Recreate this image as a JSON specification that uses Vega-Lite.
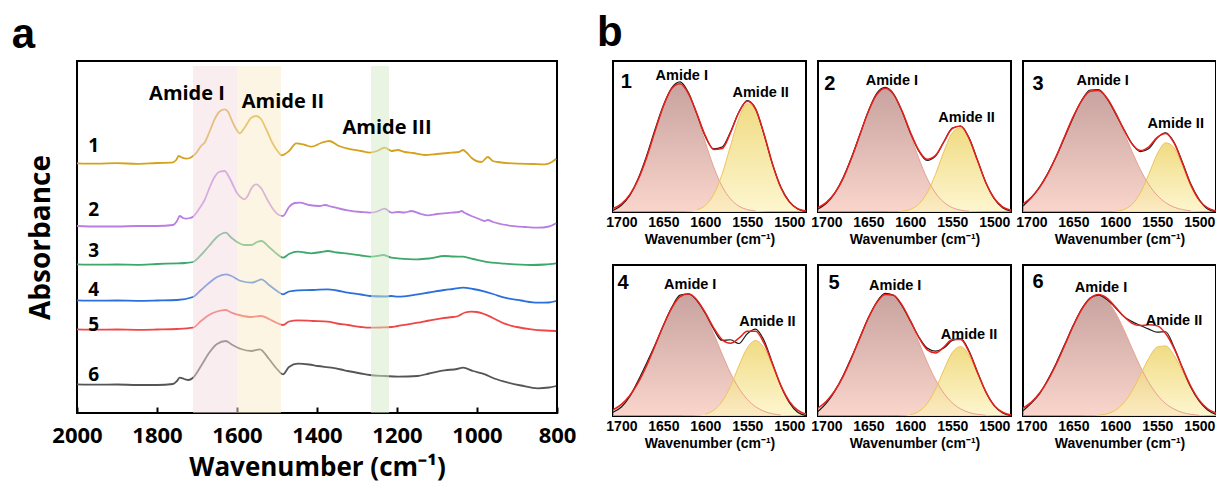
{
 "$schema": "https://vega.github.io/schema/vega-lite/v6.json",
 "background": "white",
 "padding": {"left": 10, "top": 11, "right": 0, "bottom": 0},
 "config": {
  "view": {"stroke": "black", "strokeWidth": 2},
  "axis": {"labelColor": "black", "titleColor": "black", "grid": false}
 },
 "datasets": {
  "spectra": [
   {"s":"1","wn":2000,"v":2.497},{"s":"1","wn":1950,"v":2.494},{"s":"1","wn":1900,"v":2.498},{"s":"1","wn":1850,"v":2.492},{"s":"1","wn":1800,"v":2.5},{"s":"1","wn":1764,"v":2.503},{"s":"1","wn":1752,"v":2.53},{"s":"1","wn":1746,"v":2.57},{"s":"1","wn":1738,"v":2.555},{"s":"1","wn":1727,"v":2.543},{"s":"1","wn":1718,"v":2.55},{"s":"1","wn":1710,"v":2.57},{"s":"1","wn":1700,"v":2.61},{"s":"1","wn":1690,"v":2.67},{"s":"1","wn":1681,"v":2.703},{"s":"1","wn":1670,"v":2.8},{"s":"1","wn":1656,"v":2.937},{"s":"1","wn":1645,"v":3.01},{"s":"1","wn":1631,"v":3.037},{"s":"1","wn":1622,"v":3.01},{"s":"1","wn":1614,"v":2.937},{"s":"1","wn":1605,"v":2.86},{"s":"1","wn":1593,"v":2.797},{"s":"1","wn":1580,"v":2.86},{"s":"1","wn":1565,"v":2.95},{"s":"1","wn":1552,"v":2.97},{"s":"1","wn":1540,"v":2.94},{"s":"1","wn":1525,"v":2.82},{"s":"1","wn":1510,"v":2.69},{"s":"1","wn":1497,"v":2.61},{"s":"1","wn":1489,"v":2.577},{"s":"1","wn":1470,"v":2.62},{"s":"1","wn":1452,"v":2.697},{"s":"1","wn":1430,"v":2.68},{"s":"1","wn":1414,"v":2.663},{"s":"1","wn":1390,"v":2.7},{"s":"1","wn":1369,"v":2.72},{"s":"1","wn":1345,"v":2.67},{"s":"1","wn":1323,"v":2.643},{"s":"1","wn":1290,"v":2.62},{"s":"1","wn":1268,"v":2.603},{"s":"1","wn":1250,"v":2.62},{"s":"1","wn":1231,"v":2.653},{"s":"1","wn":1214,"v":2.62},{"s":"1","wn":1198,"v":2.63},{"s":"1","wn":1181,"v":2.61},{"s":"1","wn":1160,"v":2.6},{"s":"1","wn":1131,"v":2.58},{"s":"1","wn":1100,"v":2.59},{"s":"1","wn":1064,"v":2.603},{"s":"1","wn":1045,"v":2.61},{"s":"1","wn":1035,"v":2.63},{"s":"1","wn":1025,"v":2.6},{"s":"1","wn":1014,"v":2.553},{"s":"1","wn":989,"v":2.51},{"s":"1","wn":973,"v":2.56},{"s":"1","wn":960,"v":2.52},{"s":"1","wn":948,"v":2.51},{"s":"1","wn":898,"v":2.493},{"s":"1","wn":860,"v":2.49},{"s":"1","wn":831,"v":2.487},{"s":"1","wn":815,"v":2.505},{"s":"1","wn":802,"v":2.543},
   {"s":"2","wn":2000,"v":1.87},{"s":"2","wn":1950,"v":1.865},{"s":"2","wn":1900,"v":1.865},{"s":"2","wn":1850,"v":1.87},{"s":"2","wn":1800,"v":1.87},{"s":"2","wn":1760,"v":1.88},{"s":"2","wn":1750,"v":1.92},{"s":"2","wn":1743,"v":1.97},{"s":"2","wn":1735,"v":1.95},{"s":"2","wn":1727,"v":1.943},{"s":"2","wn":1718,"v":1.95},{"s":"2","wn":1710,"v":1.963},{"s":"2","wn":1700,"v":2.01},{"s":"2","wn":1690,"v":2.07},{"s":"2","wn":1681,"v":2.13},{"s":"2","wn":1670,"v":2.24},{"s":"2","wn":1656,"v":2.36},{"s":"2","wn":1645,"v":2.41},{"s":"2","wn":1631,"v":2.42},{"s":"2","wn":1620,"v":2.36},{"s":"2","wn":1610,"v":2.28},{"s":"2","wn":1600,"v":2.2},{"s":"2","wn":1590,"v":2.155},{"s":"2","wn":1581,"v":2.137},{"s":"2","wn":1572,"v":2.18},{"s":"2","wn":1565,"v":2.24},{"s":"2","wn":1552,"v":2.287},{"s":"2","wn":1540,"v":2.25},{"s":"2","wn":1525,"v":2.14},{"s":"2","wn":1510,"v":2.04},{"s":"2","wn":1495,"v":1.98},{"s":"2","wn":1485,"v":1.97},{"s":"2","wn":1470,"v":2.06},{"s":"2","wn":1455,"v":2.1},{"s":"2","wn":1443,"v":2.103},{"s":"2","wn":1420,"v":2.08},{"s":"2","wn":1393,"v":2.07},{"s":"2","wn":1380,"v":2.08},{"s":"2","wn":1364,"v":2.063},{"s":"2","wn":1340,"v":2.04},{"s":"2","wn":1323,"v":2.027},{"s":"2","wn":1290,"v":2.01},{"s":"2","wn":1268,"v":2.003},{"s":"2","wn":1250,"v":2.015},{"s":"2","wn":1231,"v":2.043},{"s":"2","wn":1214,"v":2.003},{"s":"2","wn":1198,"v":2.01},{"s":"2","wn":1181,"v":2.005},{"s":"2","wn":1164,"v":2.02},{"s":"2","wn":1140,"v":1.99},{"s":"2","wn":1123,"v":1.977},{"s":"2","wn":1100,"v":1.99},{"s":"2","wn":1064,"v":2.003},{"s":"2","wn":1045,"v":2.01},{"s":"2","wn":1039,"v":2.02},{"s":"2","wn":1030,"v":2.0},{"s":"2","wn":1014,"v":1.97},{"s":"2","wn":995,"v":1.94},{"s":"2","wn":981,"v":1.92},{"s":"2","wn":973,"v":1.93},{"s":"2","wn":960,"v":1.91},{"s":"2","wn":923,"v":1.877},{"s":"2","wn":880,"v":1.86},{"s":"2","wn":848,"v":1.853},{"s":"2","wn":820,"v":1.865},{"s":"2","wn":802,"v":1.897},
   {"s":"3","wn":2000,"v":1.487},{"s":"3","wn":1950,"v":1.484},{"s":"3","wn":1900,"v":1.485},{"s":"3","wn":1850,"v":1.482},{"s":"3","wn":1800,"v":1.49},{"s":"3","wn":1748,"v":1.497},{"s":"3","wn":1730,"v":1.5},{"s":"3","wn":1710,"v":1.51},{"s":"3","wn":1690,"v":1.58},{"s":"3","wn":1670,"v":1.67},{"s":"3","wn":1650,"v":1.76},{"s":"3","wn":1628,"v":1.803},{"s":"3","wn":1614,"v":1.753},{"s":"3","wn":1600,"v":1.71},{"s":"3","wn":1580,"v":1.68},{"s":"3","wn":1564,"v":1.68},{"s":"3","wn":1550,"v":1.71},{"s":"3","wn":1539,"v":1.72},{"s":"3","wn":1520,"v":1.66},{"s":"3","wn":1500,"v":1.59},{"s":"3","wn":1485,"v":1.553},{"s":"3","wn":1470,"v":1.59},{"s":"3","wn":1448,"v":1.613},{"s":"3","wn":1430,"v":1.605},{"s":"3","wn":1414,"v":1.597},{"s":"3","wn":1390,"v":1.61},{"s":"3","wn":1373,"v":1.62},{"s":"3","wn":1350,"v":1.605},{"s":"3","wn":1323,"v":1.593},{"s":"3","wn":1290,"v":1.575},{"s":"3","wn":1268,"v":1.563},{"s":"3","wn":1250,"v":1.57},{"s":"3","wn":1235,"v":1.58},{"s":"3","wn":1214,"v":1.553},{"s":"3","wn":1198,"v":1.547},{"s":"3","wn":1148,"v":1.537},{"s":"3","wn":1120,"v":1.545},{"s":"3","wn":1081,"v":1.57},{"s":"3","wn":1060,"v":1.565},{"s":"3","wn":1035,"v":1.563},{"s":"3","wn":1010,"v":1.54},{"s":"3","wn":980,"v":1.513},{"s":"3","wn":931,"v":1.493},{"s":"3","wn":864,"v":1.48},{"s":"3","wn":830,"v":1.485},{"s":"3","wn":802,"v":1.497},
   {"s":"4","wn":2000,"v":1.127},{"s":"4","wn":1950,"v":1.124},{"s":"4","wn":1900,"v":1.125},{"s":"4","wn":1850,"v":1.122},{"s":"4","wn":1800,"v":1.125},{"s":"4","wn":1750,"v":1.13},{"s":"4","wn":1710,"v":1.16},{"s":"4","wn":1690,"v":1.23},{"s":"4","wn":1670,"v":1.3},{"s":"4","wn":1650,"v":1.36},{"s":"4","wn":1628,"v":1.387},{"s":"4","wn":1614,"v":1.37},{"s":"4","wn":1590,"v":1.32},{"s":"4","wn":1564,"v":1.303},{"s":"4","wn":1550,"v":1.32},{"s":"4","wn":1539,"v":1.337},{"s":"4","wn":1520,"v":1.28},{"s":"4","wn":1500,"v":1.22},{"s":"4","wn":1485,"v":1.187},{"s":"4","wn":1470,"v":1.215},{"s":"4","wn":1448,"v":1.227},{"s":"4","wn":1410,"v":1.23},{"s":"4","wn":1373,"v":1.237},{"s":"4","wn":1350,"v":1.225},{"s":"4","wn":1323,"v":1.203},{"s":"4","wn":1290,"v":1.185},{"s":"4","wn":1268,"v":1.17},{"s":"4","wn":1230,"v":1.165},{"s":"4","wn":1214,"v":1.17},{"s":"4","wn":1198,"v":1.163},{"s":"4","wn":1148,"v":1.187},{"s":"4","wn":1120,"v":1.205},{"s":"4","wn":1081,"v":1.23},{"s":"4","wn":1060,"v":1.24},{"s":"4","wn":1035,"v":1.253},{"s":"4","wn":1010,"v":1.24},{"s":"4","wn":980,"v":1.213},{"s":"4","wn":960,"v":1.19},{"s":"4","wn":931,"v":1.153},{"s":"4","wn":890,"v":1.125},{"s":"4","wn":848,"v":1.103},{"s":"4","wn":820,"v":1.105},{"s":"4","wn":802,"v":1.12},
   {"s":"5","wn":2000,"v":0.837},{"s":"5","wn":1950,"v":0.834},{"s":"5","wn":1900,"v":0.835},{"s":"5","wn":1850,"v":0.832},{"s":"5","wn":1800,"v":0.835},{"s":"5","wn":1750,"v":0.84},{"s":"5","wn":1710,"v":0.853},{"s":"5","wn":1690,"v":0.92},{"s":"5","wn":1670,"v":0.98},{"s":"5","wn":1650,"v":1.015},{"s":"5","wn":1628,"v":1.03},{"s":"5","wn":1614,"v":1.003},{"s":"5","wn":1590,"v":0.975},{"s":"5","wn":1564,"v":0.96},{"s":"5","wn":1550,"v":0.967},{"s":"5","wn":1539,"v":0.97},{"s":"5","wn":1520,"v":0.94},{"s":"5","wn":1500,"v":0.9},{"s":"5","wn":1485,"v":0.88},{"s":"5","wn":1470,"v":0.915},{"s":"5","wn":1448,"v":0.927},{"s":"5","wn":1410,"v":0.92},{"s":"5","wn":1373,"v":0.913},{"s":"5","wn":1350,"v":0.895},{"s":"5","wn":1323,"v":0.88},{"s":"5","wn":1290,"v":0.86},{"s":"5","wn":1268,"v":0.853},{"s":"5","wn":1240,"v":0.855},{"s":"5","wn":1214,"v":0.86},{"s":"5","wn":1198,"v":0.87},{"s":"5","wn":1148,"v":0.903},{"s":"5","wn":1120,"v":0.925},{"s":"5","wn":1089,"v":0.947},{"s":"5","wn":1060,"v":0.96},{"s":"5","wn":1047,"v":0.97},{"s":"5","wn":1030,"v":1.005},{"s":"5","wn":1014,"v":1.013},{"s":"5","wn":1000,"v":1.01},{"s":"5","wn":980,"v":0.987},{"s":"5","wn":960,"v":0.95},{"s":"5","wn":931,"v":0.893},{"s":"5","wn":900,"v":0.86},{"s":"5","wn":864,"v":0.837},{"s":"5","wn":830,"v":0.825},{"s":"5","wn":802,"v":0.82},
   {"s":"6","wn":2000,"v":0.287},{"s":"6","wn":1950,"v":0.284},{"s":"6","wn":1900,"v":0.285},{"s":"6","wn":1850,"v":0.28},{"s":"6","wn":1800,"v":0.28},{"s":"6","wn":1760,"v":0.29},{"s":"6","wn":1750,"v":0.32},{"s":"6","wn":1743,"v":0.353},{"s":"6","wn":1732,"v":0.34},{"s":"6","wn":1722,"v":0.33},{"s":"6","wn":1710,"v":0.353},{"s":"6","wn":1690,"v":0.47},{"s":"6","wn":1670,"v":0.6},{"s":"6","wn":1650,"v":0.69},{"s":"6","wn":1628,"v":0.72},{"s":"6","wn":1614,"v":0.687},{"s":"6","wn":1590,"v":0.64},{"s":"6","wn":1564,"v":0.62},{"s":"6","wn":1543,"v":0.637},{"s":"6","wn":1520,"v":0.54},{"s":"6","wn":1500,"v":0.44},{"s":"6","wn":1485,"v":0.387},{"s":"6","wn":1470,"v":0.46},{"s":"6","wn":1448,"v":0.493},{"s":"6","wn":1420,"v":0.485},{"s":"6","wn":1398,"v":0.47},{"s":"6","wn":1364,"v":0.453},{"s":"6","wn":1340,"v":0.435},{"s":"6","wn":1323,"v":0.42},{"s":"6","wn":1290,"v":0.395},{"s":"6","wn":1268,"v":0.38},{"s":"6","wn":1230,"v":0.37},{"s":"6","wn":1198,"v":0.363},{"s":"6","wn":1148,"v":0.37},{"s":"6","wn":1120,"v":0.395},{"s":"6","wn":1081,"v":0.427},{"s":"6","wn":1050,"v":0.44},{"s":"6","wn":1035,"v":0.453},{"s":"6","wn":1010,"v":0.42},{"s":"6","wn":980,"v":0.387},{"s":"6","wn":960,"v":0.35},{"s":"6","wn":931,"v":0.313},{"s":"6","wn":890,"v":0.275},{"s":"6","wn":848,"v":0.247},{"s":"6","wn":820,"v":0.255},{"s":"6","wn":802,"v":0.27}
  ],
  "bands": [
   {"b":"I","x1":1600,"x2":1710},
   {"b":"II","x1":1490,"x2":1600},
   {"b":"III","x1":1220,"x2":1265}
  ],
  "alab": [
   {"t":"1","wn":1958,"v":2.67,"k":"n"},{"t":"2","wn":1958,"v":2.035,"k":"n"},{"t":"3","wn":1958,"v":1.62,"k":"n"},{"t":"4","wn":1958,"v":1.235,"k":"n"},{"t":"5","wn":1958,"v":0.885,"k":"n"},{"t":"6","wn":1958,"v":0.385,"k":"n"},
   {"t":"Amide I","wn":1725,"v":3.195,"k":"a"},{"t":"Amide II","wn":1485,"v":3.11,"k":"a"},{"t":"Amide III","wn":1225,"v":2.855,"k":"a"},
   {"t":"a","wn":2134,"v":3.655,"k":"p"},{"t":"b","wn":668,"v":3.67,"k":"p"}
  ],
  "fits": [
   {"p":1,"wn":1710,"a1":0.023,"a2":0,"fit":0.023,"raw":0.01},{"p":1,"wn":1700,"a1":0.054,"a2":0,"fit":0.054,"raw":0.045},{"p":1,"wn":1690,"a1":0.115,"a2":0,"fit":0.115,"raw":0.11},{"p":1,"wn":1680,"a1":0.216,"a2":0,"fit":0.216,"raw":0.222},{"p":1,"wn":1670,"a1":0.36,"a2":0,"fit":0.36,"raw":0.372},{"p":1,"wn":1660,"a1":0.534,"a2":0,"fit":0.534,"raw":0.545},{"p":1,"wn":1650,"a1":0.701,"a2":0,"fit":0.701,"raw":0.705},{"p":1,"wn":1640,"a1":0.818,"a2":0,"fit":0.818,"raw":0.822},{"p":1,"wn":1630,"a1":0.848,"a2":0.001,"fit":0.849,"raw":0.862},{"p":1,"wn":1620,"a1":0.78,"a2":0.003,"fit":0.783,"raw":0.79},{"p":1,"wn":1610,"a1":0.637,"a2":0.014,"fit":0.651,"raw":0.648},{"p":1,"wn":1600,"a1":0.462,"a2":0.044,"fit":0.506,"raw":0.5},{"p":1,"wn":1590,"a1":0.298,"a2":0.116,"fit":0.414,"raw":0.418},{"p":1,"wn":1580,"a1":0.17,"a2":0.25,"fit":0.42,"raw":0.43},{"p":1,"wn":1570,"a1":0.087,"a2":0.437,"fit":0.524,"raw":0.53},{"p":1,"wn":1560,"a1":0.039,"a2":0.62,"fit":0.659,"raw":0.662},{"p":1,"wn":1550,"a1":0.016,"a2":0.717,"fit":0.733,"raw":0.738},{"p":1,"wn":1540,"a1":0.006,"a2":0.674,"fit":0.68,"raw":0.683},{"p":1,"wn":1530,"a1":0.002,"a2":0.515,"fit":0.517,"raw":0.512},{"p":1,"wn":1520,"a1":0,"a2":0.32,"fit":0.32,"raw":0.318},{"p":1,"wn":1510,"a1":0,"a2":0.162,"fit":0.162,"raw":0.165},{"p":1,"wn":1500,"a1":0,"a2":0.067,"fit":0.067,"raw":0.07},{"p":1,"wn":1490,"a1":0,"a2":0.022,"fit":0.022,"raw":0.02},{"p":1,"wn":1480,"a1":0,"a2":0.006,"fit":0.006,"raw":0.003},
   {"p":2,"wn":1710,"a1":0.029,"a2":0,"fit":0.029,"raw":0.02},{"p":2,"wn":1700,"a1":0.064,"a2":0,"fit":0.064,"raw":0.058},{"p":2,"wn":1690,"a1":0.126,"a2":0,"fit":0.126,"raw":0.125},{"p":2,"wn":1680,"a1":0.223,"a2":0,"fit":0.223,"raw":0.228},{"p":2,"wn":1670,"a1":0.357,"a2":0,"fit":0.357,"raw":0.362},{"p":2,"wn":1660,"a1":0.513,"a2":0,"fit":0.513,"raw":0.515},{"p":2,"wn":1650,"a1":0.666,"a2":0,"fit":0.666,"raw":0.668},{"p":2,"wn":1640,"a1":0.778,"a2":0,"fit":0.778,"raw":0.785},{"p":2,"wn":1630,"a1":0.82,"a2":0,"fit":0.82,"raw":0.825},{"p":2,"wn":1620,"a1":0.778,"a2":0.001,"fit":0.779,"raw":0.782},{"p":2,"wn":1610,"a1":0.666,"a2":0.005,"fit":0.671,"raw":0.668},{"p":2,"wn":1600,"a1":0.513,"a2":0.017,"fit":0.53,"raw":0.525},{"p":2,"wn":1590,"a1":0.357,"a2":0.052,"fit":0.409,"raw":0.405},{"p":2,"wn":1580,"a1":0.223,"a2":0.126,"fit":0.349,"raw":0.342},{"p":2,"wn":1570,"a1":0.126,"a2":0.249,"fit":0.375,"raw":0.37},{"p":2,"wn":1560,"a1":0.064,"a2":0.4,"fit":0.464,"raw":0.465},{"p":2,"wn":1550,"a1":0.029,"a2":0.524,"fit":0.553,"raw":0.556},{"p":2,"wn":1540,"a1":0.012,"a2":0.558,"fit":0.57,"raw":0.568},{"p":2,"wn":1530,"a1":0.005,"a2":0.483,"fit":0.488,"raw":0.492},{"p":2,"wn":1520,"a1":0.002,"a2":0.34,"fit":0.342,"raw":0.345},{"p":2,"wn":1510,"a1":0,"a2":0.194,"fit":0.194,"raw":0.195},{"p":2,"wn":1500,"a1":0,"a2":0.091,"fit":0.091,"raw":0.088},{"p":2,"wn":1490,"a1":0,"a2":0.034,"fit":0.034,"raw":0.028},{"p":2,"wn":1480,"a1":0,"a2":0.011,"fit":0.011,"raw":0.005},
   {"p":3,"wn":1710,"a1":0.054,"a2":0,"fit":0.054,"raw":0.04},{"p":3,"wn":1700,"a1":0.098,"a2":0,"fit":0.098,"raw":0.095},{"p":3,"wn":1690,"a1":0.165,"a2":0,"fit":0.165,"raw":0.168},{"p":3,"wn":1680,"a1":0.258,"a2":0,"fit":0.258,"raw":0.262},{"p":3,"wn":1670,"a1":0.374,"a2":0,"fit":0.374,"raw":0.372},{"p":3,"wn":1660,"a1":0.505,"a2":0,"fit":0.505,"raw":0.5},{"p":3,"wn":1650,"a1":0.633,"a2":0,"fit":0.633,"raw":0.628},{"p":3,"wn":1640,"a1":0.738,"a2":0,"fit":0.738,"raw":0.74},{"p":3,"wn":1630,"a1":0.799,"a2":0,"fit":0.799,"raw":0.808},{"p":3,"wn":1620,"a1":0.805,"a2":0,"fit":0.805,"raw":0.81},{"p":3,"wn":1610,"a1":0.754,"a2":0.001,"fit":0.755,"raw":0.752},{"p":3,"wn":1600,"a1":0.656,"a2":0.004,"fit":0.66,"raw":0.655},{"p":3,"wn":1590,"a1":0.531,"a2":0.016,"fit":0.547,"raw":0.55},{"p":3,"wn":1580,"a1":0.399,"a2":0.051,"fit":0.45,"raw":0.452},{"p":3,"wn":1570,"a1":0.279,"a2":0.128,"fit":0.407,"raw":0.4},{"p":3,"wn":1560,"a1":0.181,"a2":0.251,"fit":0.432,"raw":0.42},{"p":3,"wn":1550,"a1":0.11,"a2":0.384,"fit":0.494,"raw":0.492},{"p":3,"wn":1540,"a1":0.062,"a2":0.458,"fit":0.52,"raw":0.525},{"p":3,"wn":1530,"a1":0.032,"a2":0.425,"fit":0.457,"raw":0.462},{"p":3,"wn":1520,"a1":0.016,"a2":0.307,"fit":0.323,"raw":0.33},{"p":3,"wn":1510,"a1":0.007,"a2":0.173,"fit":0.18,"raw":0.185},{"p":3,"wn":1500,"a1":0.003,"a2":0.076,"fit":0.079,"raw":0.082},{"p":3,"wn":1490,"a1":0.001,"a2":0.026,"fit":0.027,"raw":0.02},{"p":3,"wn":1480,"a1":0,"a2":0.007,"fit":0.007,"raw":0.002},
   {"p":4,"wn":1710,"a1":0.041,"a2":0,"fit":0.041,"raw":0.025},{"p":4,"wn":1700,"a1":0.077,"a2":0,"fit":0.077,"raw":0.06},{"p":4,"wn":1690,"a1":0.136,"a2":0,"fit":0.136,"raw":0.13},{"p":4,"wn":1680,"a1":0.221,"a2":0,"fit":0.221,"raw":0.235},{"p":4,"wn":1670,"a1":0.333,"a2":0,"fit":0.333,"raw":0.35},{"p":4,"wn":1660,"a1":0.464,"a2":0,"fit":0.464,"raw":0.47},{"p":4,"wn":1650,"a1":0.599,"a2":0,"fit":0.599,"raw":0.6},{"p":4,"wn":1640,"a1":0.715,"a2":0,"fit":0.715,"raw":0.72},{"p":4,"wn":1630,"a1":0.79,"a2":0,"fit":0.79,"raw":0.8},{"p":4,"wn":1620,"a1":0.809,"a2":0.001,"fit":0.81,"raw":0.808},{"p":4,"wn":1610,"a1":0.766,"a2":0.003,"fit":0.769,"raw":0.765},{"p":4,"wn":1600,"a1":0.672,"a2":0.012,"fit":0.684,"raw":0.68},{"p":4,"wn":1590,"a1":0.546,"a2":0.038,"fit":0.584,"raw":0.575},{"p":4,"wn":1580,"a1":0.41,"a2":0.096,"fit":0.506,"raw":0.5},{"p":4,"wn":1570,"a1":0.285,"a2":0.197,"fit":0.482,"raw":0.505},{"p":4,"wn":1560,"a1":0.184,"a2":0.331,"fit":0.515,"raw":0.48},{"p":4,"wn":1550,"a1":0.11,"a2":0.451,"fit":0.561,"raw":0.545},{"p":4,"wn":1540,"a1":0.061,"a2":0.5,"fit":0.561,"raw":0.575},{"p":4,"wn":1530,"a1":0.031,"a2":0.451,"fit":0.482,"raw":0.5},{"p":4,"wn":1520,"a1":0.015,"a2":0.331,"fit":0.346,"raw":0.35},{"p":4,"wn":1510,"a1":0.006,"a2":0.197,"fit":0.203,"raw":0.2},{"p":4,"wn":1500,"a1":0.003,"a2":0.096,"fit":0.099,"raw":0.09},{"p":4,"wn":1490,"a1":0.001,"a2":0.038,"fit":0.039,"raw":0.025},{"p":4,"wn":1480,"a1":0,"a2":0.012,"fit":0.012,"raw":0.003},
   {"p":5,"wn":1710,"a1":0.053,"a2":0,"fit":0.053,"raw":0.03},{"p":5,"wn":1700,"a1":0.098,"a2":0,"fit":0.098,"raw":0.085},{"p":5,"wn":1690,"a1":0.167,"a2":0,"fit":0.167,"raw":0.165},{"p":5,"wn":1680,"a1":0.263,"a2":0,"fit":0.263,"raw":0.268},{"p":5,"wn":1670,"a1":0.384,"a2":0,"fit":0.384,"raw":0.39},{"p":5,"wn":1660,"a1":0.519,"a2":0,"fit":0.519,"raw":0.52},{"p":5,"wn":1650,"a1":0.649,"a2":0,"fit":0.649,"raw":0.65},{"p":5,"wn":1640,"a1":0.751,"a2":0,"fit":0.751,"raw":0.755},{"p":5,"wn":1630,"a1":0.805,"a2":0,"fit":0.805,"raw":0.812},{"p":5,"wn":1620,"a1":0.799,"a2":0,"fit":0.799,"raw":0.8},{"p":5,"wn":1610,"a1":0.734,"a2":0.002,"fit":0.736,"raw":0.73},{"p":5,"wn":1600,"a1":0.624,"a2":0.009,"fit":0.633,"raw":0.63},{"p":5,"wn":1590,"a1":0.491,"a2":0.03,"fit":0.521,"raw":0.525},{"p":5,"wn":1580,"a1":0.358,"a2":0.082,"fit":0.44,"raw":0.45},{"p":5,"wn":1570,"a1":0.241,"a2":0.177,"fit":0.418,"raw":0.43},{"p":5,"wn":1560,"a1":0.151,"a2":0.306,"fit":0.457,"raw":0.45},{"p":5,"wn":1550,"a1":0.087,"a2":0.42,"fit":0.507,"raw":0.5},{"p":5,"wn":1540,"a1":0.047,"a2":0.46,"fit":0.507,"raw":0.512},{"p":5,"wn":1530,"a1":0.023,"a2":0.401,"fit":0.424,"raw":0.43},{"p":5,"wn":1520,"a1":0.011,"a2":0.279,"fit":0.29,"raw":0.292},{"p":5,"wn":1510,"a1":0.005,"a2":0.155,"fit":0.16,"raw":0.16},{"p":5,"wn":1500,"a1":0.002,"a2":0.068,"fit":0.07,"raw":0.068},{"p":5,"wn":1490,"a1":0.001,"a2":0.024,"fit":0.025,"raw":0.02},{"p":5,"wn":1480,"a1":0,"a2":0.007,"fit":0.007,"raw":0.002},
   {"p":6,"wn":1710,"a1":0.052,"a2":0,"fit":0.052,"raw":0.035},{"p":6,"wn":1700,"a1":0.092,"a2":0,"fit":0.092,"raw":0.085},{"p":6,"wn":1690,"a1":0.154,"a2":0,"fit":0.154,"raw":0.15},{"p":6,"wn":1680,"a1":0.24,"a2":0,"fit":0.24,"raw":0.245},{"p":6,"wn":1670,"a1":0.348,"a2":0,"fit":0.348,"raw":0.355},{"p":6,"wn":1660,"a1":0.472,"a2":0,"fit":0.472,"raw":0.478},{"p":6,"wn":1650,"a1":0.598,"a2":0,"fit":0.598,"raw":0.602},{"p":6,"wn":1640,"a1":0.706,"a2":0,"fit":0.706,"raw":0.71},{"p":6,"wn":1630,"a1":0.778,"a2":0.001,"fit":0.779,"raw":0.782},{"p":6,"wn":1620,"a1":0.8,"a2":0.005,"fit":0.805,"raw":0.8},{"p":6,"wn":1610,"a1":0.767,"a2":0.014,"fit":0.781,"raw":0.772},{"p":6,"wn":1600,"a1":0.686,"a2":0.038,"fit":0.724,"raw":0.718},{"p":6,"wn":1590,"a1":0.574,"a2":0.086,"fit":0.66,"raw":0.66},{"p":6,"wn":1580,"a1":0.447,"a2":0.167,"fit":0.614,"raw":0.625},{"p":6,"wn":1570,"a1":0.325,"a2":0.274,"fit":0.599,"raw":0.6},{"p":6,"wn":1560,"a1":0.221,"a2":0.383,"fit":0.604,"raw":0.575},{"p":6,"wn":1550,"a1":0.14,"a2":0.457,"fit":0.597,"raw":0.555},{"p":6,"wn":1540,"a1":0.082,"a2":0.464,"fit":0.546,"raw":0.558},{"p":6,"wn":1530,"a1":0.046,"a2":0.402,"fit":0.448,"raw":0.455},{"p":6,"wn":1520,"a1":0.023,"a2":0.296,"fit":0.319,"raw":0.318},{"p":6,"wn":1510,"a1":0.011,"a2":0.186,"fit":0.197,"raw":0.19},{"p":6,"wn":1500,"a1":0.005,"a2":0.1,"fit":0.105,"raw":0.098},{"p":6,"wn":1490,"a1":0.002,"a2":0.046,"fit":0.048,"raw":0.04},{"p":6,"wn":1480,"a1":0.001,"a2":0.018,"fit":0.019,"raw":0.01},
   {"p":1,"wn":1694,"y":0.86,"t":"1","k":"n"},{"p":1,"wn":1628,"y":0.9,"t":"Amide I","k":"a"},{"p":1,"wn":1534,"y":0.79,"t":"Amide II","k":"a"},
   {"p":2,"wn":1696,"y":0.85,"t":"2","k":"n"},{"p":2,"wn":1622,"y":0.87,"t":"Amide I","k":"a"},{"p":2,"wn":1533,"y":0.62,"t":"Amide II","k":"a"},
   {"p":3,"wn":1692,"y":0.85,"t":"3","k":"n"},{"p":3,"wn":1615,"y":0.87,"t":"Amide I","k":"a"},{"p":3,"wn":1528,"y":0.585,"t":"Amide II","k":"a"},
   {"p":4,"wn":1698,"y":0.88,"t":"4","k":"n"},{"p":4,"wn":1618,"y":0.87,"t":"Amide I","k":"a"},{"p":4,"wn":1526,"y":0.62,"t":"Amide II","k":"a"},
   {"p":5,"wn":1691,"y":0.88,"t":"5","k":"n"},{"p":5,"wn":1618,"y":0.86,"t":"Amide I","k":"a"},{"p":5,"wn":1530,"y":0.535,"t":"Amide II","k":"a"},
   {"p":6,"wn":1692,"y":0.89,"t":"6","k":"n"},{"p":6,"wn":1617,"y":0.85,"t":"Amide I","k":"a"},{"p":6,"wn":1530,"y":0.63,"t":"Amide II","k":"a"}
  ]
 },
 "spacing": 56,
 "bounds": "flush",
 "hconcat": [
  {
   "width": 480,
   "height": 352,
   "layer": [
    {
     "data": {"name": "spectra"},
     "mark": {"type": "line", "strokeWidth": 1.8, "interpolate": "monotone"},
     "encoding": {
      "x": {"field": "wn", "type": "quantitative", "scale": {"domain": [800, 2000], "reverse": true, "nice": false, "zero": false},
       "axis": {"values": [800, 1000, 1200, 1400, 1600, 1800, 2000], "format": "d", "domain": false, "tickSize": -6, "tickWidth": 2, "tickColor": "black", "labelFont": "Open Sans", "labelFontSize": 22, "labelFontWeight": "bold", "labelPadding": 18, "labelFlush": false, "labelOverlap": false, "title": "Wavenumber (cm⁻¹)", "titleFont": "Open Sans", "titleFontSize": 26, "titleFontWeight": "bold", "titlePadding": 8}},
      "y": {"field": "v", "type": "quantitative", "scale": {"domain": [0, 3.52], "nice": false, "zero": false},
       "axis": {"labels": false, "ticks": false, "domain": false, "title": "Absorbance", "titleFont": "Open Sans", "titleFontSize": 28, "titleFontWeight": "bold", "titlePadding": 22}},
      "stroke": {"field": "s", "type": "nominal", "scale": {"domain": ["1", "2", "3", "4", "5", "6"], "range": ["#D4A21C", "#B87EE0", "#3DA86A", "#2B6FDB", "#EE4747", "#555555"]}, "legend": null}
     }
    },
    {
     "data": {"name": "bands"},
     "mark": {"type": "rect", "opacity": 0.5},
     "encoding": {
      "x": {"field": "x1", "type": "quantitative"},
      "x2": {"field": "x2"},
      "y": {"datum": 0},
      "y2": {"datum": 3.47},
      "fill": {"field": "b", "type": "nominal", "scale": {"domain": ["I", "II", "III"], "range": ["#F6DCE1", "#FCEBC8", "#D6E9C8"]}, "legend": null}
     }
    },
    {
     "data": {"name": "alab"},
     "transform": [{"filter": "datum.k == 'n'"}],
     "mark": {"type": "text", "font": "Open Sans", "fontSize": 19, "fontWeight": "bold", "color": "black"},
     "encoding": {"x": {"field": "wn", "type": "quantitative"}, "y": {"field": "v", "type": "quantitative"}, "text": {"field": "t"}}
    },
    {
     "data": {"name": "alab"},
     "transform": [{"filter": "datum.k == 'a'"}],
     "mark": {"type": "text", "font": "Open Sans", "fontSize": 20, "fontWeight": "bold", "color": "black"},
     "encoding": {"x": {"field": "wn", "type": "quantitative"}, "y": {"field": "v", "type": "quantitative"}, "text": {"field": "t"}}
    },
    {
     "data": {"name": "alab"},
     "transform": [{"filter": "datum.k == 'p'"}],
     "mark": {"type": "text", "font": "Liberation Sans", "fontSize": 42, "fontWeight": "bold", "color": "black", "baseline": "alphabetic"},
     "encoding": {"x": {"field": "wn", "type": "quantitative"}, "y": {"field": "v", "type": "quantitative"}, "text": {"field": "t"}}
    }
   ]
  },
  {
   "columns": 3,
   "spacing": {"row": 53, "column": 12},
   "bounds": "flush",
   "concat": [
    {"width": 193, "height": 151, "data": {"name": "fits"}, "transform": [{"filter": "datum.p == 1"}],
     "encoding": {"x": {"field": "wn", "type": "quantitative", "scale": {"domain": [1480, 1710], "reverse": true, "nice": false, "zero": false}, "axis": {"values": [1500, 1550, 1600, 1650, 1700], "format": "d", "domain": false, "ticks": false, "labelFont": "Liberation Sans", "labelFontSize": 14, "labelFontWeight": "bold", "labelPadding": 3, "labelFlush": false, "labelOverlap": false, "title": "Wavenumber (cm⁻¹)", "titleFont": "Liberation Sans", "titleFontSize": 14, "titleFontWeight": "bold", "titlePadding": 3}}},
     "layer": [
      {"transform": [{"filter": "isValid(datum.a1)"}], "mark": {"type": "area", "interpolate": "monotone", "fillOpacity": 0.75, "color": {"gradient": "linear", "x1": 0, "y1": 0, "x2": 0, "y2": 1, "stops": [{"offset": 0, "color": "#B6847F"}, {"offset": 1, "color": "#F7C7BB"}]}}, "encoding": {"y": {"field": "a1", "type": "quantitative", "scale": {"domain": [0, 1], "nice": false}, "axis": null}}},
      {"transform": [{"filter": "isValid(datum.a2)"}], "mark": {"type": "area", "interpolate": "monotone", "fillOpacity": 0.75, "color": {"gradient": "linear", "x1": 0, "y1": 0, "x2": 0, "y2": 1, "stops": [{"offset": 0, "color": "#EBD05B"}, {"offset": 1, "color": "#FDF3C0"}]}}, "encoding": {"y": {"field": "a2", "type": "quantitative", "axis": null}}},
      {"transform": [{"filter": "isValid(datum.a1) && datum.a1 > 0.003"}], "mark": {"type": "line", "interpolate": "monotone", "stroke": "#E6A08F", "strokeWidth": 1}, "encoding": {"y": {"field": "a1", "type": "quantitative", "axis": null}}},
      {"transform": [{"filter": "isValid(datum.a2) && datum.a2 > 0.003"}], "mark": {"type": "line", "interpolate": "monotone", "stroke": "#EEC35A", "strokeWidth": 1}, "encoding": {"y": {"field": "a2", "type": "quantitative", "axis": null}}},
      {"transform": [{"filter": "isValid(datum.raw)"}], "mark": {"type": "line", "interpolate": "monotone", "stroke": "#1a1a1a", "strokeWidth": 1.2}, "encoding": {"y": {"field": "raw", "type": "quantitative", "axis": null}}},
      {"transform": [{"filter": "isValid(datum.fit)"}], "mark": {"type": "line", "interpolate": "monotone", "stroke": "#E8201C", "strokeWidth": 1.5}, "encoding": {"y": {"field": "fit", "type": "quantitative", "axis": null}}},
      {"transform": [{"filter": "datum.k == 'n'"}], "mark": {"type": "text", "font": "Liberation Sans", "fontSize": 20, "fontWeight": "bold", "color": "black"}, "encoding": {"y": {"field": "y", "type": "quantitative", "axis": null}, "text": {"field": "t"}}},
      {"transform": [{"filter": "datum.k == 'a'"}], "mark": {"type": "text", "font": "Liberation Sans", "fontSize": 14.5, "fontWeight": "bold", "color": "black"}, "encoding": {"y": {"field": "y", "type": "quantitative", "axis": null}, "text": {"field": "t"}}}
     ]},
    {"width": 193, "height": 151, "data": {"name": "fits"}, "transform": [{"filter": "datum.p == 2"}],
     "encoding": {"x": {"field": "wn", "type": "quantitative", "scale": {"domain": [1480, 1710], "reverse": true, "nice": false, "zero": false}, "axis": {"values": [1500, 1550, 1600, 1650, 1700], "format": "d", "domain": false, "ticks": false, "labelFont": "Liberation Sans", "labelFontSize": 14, "labelFontWeight": "bold", "labelPadding": 3, "labelFlush": false, "labelOverlap": false, "title": "Wavenumber (cm⁻¹)", "titleFont": "Liberation Sans", "titleFontSize": 14, "titleFontWeight": "bold", "titlePadding": 3}}},
     "layer": [
      {"transform": [{"filter": "isValid(datum.a1)"}], "mark": {"type": "area", "interpolate": "monotone", "fillOpacity": 0.75, "color": {"gradient": "linear", "x1": 0, "y1": 0, "x2": 0, "y2": 1, "stops": [{"offset": 0, "color": "#B6847F"}, {"offset": 1, "color": "#F7C7BB"}]}}, "encoding": {"y": {"field": "a1", "type": "quantitative", "scale": {"domain": [0, 1], "nice": false}, "axis": null}}},
      {"transform": [{"filter": "isValid(datum.a2)"}], "mark": {"type": "area", "interpolate": "monotone", "fillOpacity": 0.75, "color": {"gradient": "linear", "x1": 0, "y1": 0, "x2": 0, "y2": 1, "stops": [{"offset": 0, "color": "#EBD05B"}, {"offset": 1, "color": "#FDF3C0"}]}}, "encoding": {"y": {"field": "a2", "type": "quantitative", "axis": null}}},
      {"transform": [{"filter": "isValid(datum.a1) && datum.a1 > 0.003"}], "mark": {"type": "line", "interpolate": "monotone", "stroke": "#E6A08F", "strokeWidth": 1}, "encoding": {"y": {"field": "a1", "type": "quantitative", "axis": null}}},
      {"transform": [{"filter": "isValid(datum.a2) && datum.a2 > 0.003"}], "mark": {"type": "line", "interpolate": "monotone", "stroke": "#EEC35A", "strokeWidth": 1}, "encoding": {"y": {"field": "a2", "type": "quantitative", "axis": null}}},
      {"transform": [{"filter": "isValid(datum.raw)"}], "mark": {"type": "line", "interpolate": "monotone", "stroke": "#1a1a1a", "strokeWidth": 1.2}, "encoding": {"y": {"field": "raw", "type": "quantitative", "axis": null}}},
      {"transform": [{"filter": "isValid(datum.fit)"}], "mark": {"type": "line", "interpolate": "monotone", "stroke": "#E8201C", "strokeWidth": 1.5}, "encoding": {"y": {"field": "fit", "type": "quantitative", "axis": null}}},
      {"transform": [{"filter": "datum.k == 'n'"}], "mark": {"type": "text", "font": "Liberation Sans", "fontSize": 20, "fontWeight": "bold", "color": "black"}, "encoding": {"y": {"field": "y", "type": "quantitative", "axis": null}, "text": {"field": "t"}}},
      {"transform": [{"filter": "datum.k == 'a'"}], "mark": {"type": "text", "font": "Liberation Sans", "fontSize": 14.5, "fontWeight": "bold", "color": "black"}, "encoding": {"y": {"field": "y", "type": "quantitative", "axis": null}, "text": {"field": "t"}}}
     ]},
    {"width": 193, "height": 151, "data": {"name": "fits"}, "transform": [{"filter": "datum.p == 3"}],
     "encoding": {"x": {"field": "wn", "type": "quantitative", "scale": {"domain": [1480, 1710], "reverse": true, "nice": false, "zero": false}, "axis": {"values": [1500, 1550, 1600, 1650, 1700], "format": "d", "domain": false, "ticks": false, "labelFont": "Liberation Sans", "labelFontSize": 14, "labelFontWeight": "bold", "labelPadding": 3, "labelFlush": false, "labelOverlap": false, "title": "Wavenumber (cm⁻¹)", "titleFont": "Liberation Sans", "titleFontSize": 14, "titleFontWeight": "bold", "titlePadding": 3}}},
     "layer": [
      {"transform": [{"filter": "isValid(datum.a1)"}], "mark": {"type": "area", "interpolate": "monotone", "fillOpacity": 0.75, "color": {"gradient": "linear", "x1": 0, "y1": 0, "x2": 0, "y2": 1, "stops": [{"offset": 0, "color": "#B6847F"}, {"offset": 1, "color": "#F7C7BB"}]}}, "encoding": {"y": {"field": "a1", "type": "quantitative", "scale": {"domain": [0, 1], "nice": false}, "axis": null}}},
      {"transform": [{"filter": "isValid(datum.a2)"}], "mark": {"type": "area", "interpolate": "monotone", "fillOpacity": 0.75, "color": {"gradient": "linear", "x1": 0, "y1": 0, "x2": 0, "y2": 1, "stops": [{"offset": 0, "color": "#EBD05B"}, {"offset": 1, "color": "#FDF3C0"}]}}, "encoding": {"y": {"field": "a2", "type": "quantitative", "axis": null}}},
      {"transform": [{"filter": "isValid(datum.a1) && datum.a1 > 0.003"}], "mark": {"type": "line", "interpolate": "monotone", "stroke": "#E6A08F", "strokeWidth": 1}, "encoding": {"y": {"field": "a1", "type": "quantitative", "axis": null}}},
      {"transform": [{"filter": "isValid(datum.a2) && datum.a2 > 0.003"}], "mark": {"type": "line", "interpolate": "monotone", "stroke": "#EEC35A", "strokeWidth": 1}, "encoding": {"y": {"field": "a2", "type": "quantitative", "axis": null}}},
      {"transform": [{"filter": "isValid(datum.raw)"}], "mark": {"type": "line", "interpolate": "monotone", "stroke": "#1a1a1a", "strokeWidth": 1.2}, "encoding": {"y": {"field": "raw", "type": "quantitative", "axis": null}}},
      {"transform": [{"filter": "isValid(datum.fit)"}], "mark": {"type": "line", "interpolate": "monotone", "stroke": "#E8201C", "strokeWidth": 1.5}, "encoding": {"y": {"field": "fit", "type": "quantitative", "axis": null}}},
      {"transform": [{"filter": "datum.k == 'n'"}], "mark": {"type": "text", "font": "Liberation Sans", "fontSize": 20, "fontWeight": "bold", "color": "black"}, "encoding": {"y": {"field": "y", "type": "quantitative", "axis": null}, "text": {"field": "t"}}},
      {"transform": [{"filter": "datum.k == 'a'"}], "mark": {"type": "text", "font": "Liberation Sans", "fontSize": 14.5, "fontWeight": "bold", "color": "black"}, "encoding": {"y": {"field": "y", "type": "quantitative", "axis": null}, "text": {"field": "t"}}}
     ]},
    {"width": 193, "height": 151, "data": {"name": "fits"}, "transform": [{"filter": "datum.p == 4"}],
     "encoding": {"x": {"field": "wn", "type": "quantitative", "scale": {"domain": [1480, 1710], "reverse": true, "nice": false, "zero": false}, "axis": {"values": [1500, 1550, 1600, 1650, 1700], "format": "d", "domain": false, "ticks": false, "labelFont": "Liberation Sans", "labelFontSize": 14, "labelFontWeight": "bold", "labelPadding": 3, "labelFlush": false, "labelOverlap": false, "title": "Wavenumber (cm⁻¹)", "titleFont": "Liberation Sans", "titleFontSize": 14, "titleFontWeight": "bold", "titlePadding": 3}}},
     "layer": [
      {"transform": [{"filter": "isValid(datum.a1)"}], "mark": {"type": "area", "interpolate": "monotone", "fillOpacity": 0.75, "color": {"gradient": "linear", "x1": 0, "y1": 0, "x2": 0, "y2": 1, "stops": [{"offset": 0, "color": "#B6847F"}, {"offset": 1, "color": "#F7C7BB"}]}}, "encoding": {"y": {"field": "a1", "type": "quantitative", "scale": {"domain": [0, 1], "nice": false}, "axis": null}}},
      {"transform": [{"filter": "isValid(datum.a2)"}], "mark": {"type": "area", "interpolate": "monotone", "fillOpacity": 0.75, "color": {"gradient": "linear", "x1": 0, "y1": 0, "x2": 0, "y2": 1, "stops": [{"offset": 0, "color": "#EBD05B"}, {"offset": 1, "color": "#FDF3C0"}]}}, "encoding": {"y": {"field": "a2", "type": "quantitative", "axis": null}}},
      {"transform": [{"filter": "isValid(datum.a1) && datum.a1 > 0.003"}], "mark": {"type": "line", "interpolate": "monotone", "stroke": "#E6A08F", "strokeWidth": 1}, "encoding": {"y": {"field": "a1", "type": "quantitative", "axis": null}}},
      {"transform": [{"filter": "isValid(datum.a2) && datum.a2 > 0.003"}], "mark": {"type": "line", "interpolate": "monotone", "stroke": "#EEC35A", "strokeWidth": 1}, "encoding": {"y": {"field": "a2", "type": "quantitative", "axis": null}}},
      {"transform": [{"filter": "isValid(datum.raw)"}], "mark": {"type": "line", "interpolate": "monotone", "stroke": "#1a1a1a", "strokeWidth": 1.2}, "encoding": {"y": {"field": "raw", "type": "quantitative", "axis": null}}},
      {"transform": [{"filter": "isValid(datum.fit)"}], "mark": {"type": "line", "interpolate": "monotone", "stroke": "#E8201C", "strokeWidth": 1.5}, "encoding": {"y": {"field": "fit", "type": "quantitative", "axis": null}}},
      {"transform": [{"filter": "datum.k == 'n'"}], "mark": {"type": "text", "font": "Liberation Sans", "fontSize": 20, "fontWeight": "bold", "color": "black"}, "encoding": {"y": {"field": "y", "type": "quantitative", "axis": null}, "text": {"field": "t"}}},
      {"transform": [{"filter": "datum.k == 'a'"}], "mark": {"type": "text", "font": "Liberation Sans", "fontSize": 14.5, "fontWeight": "bold", "color": "black"}, "encoding": {"y": {"field": "y", "type": "quantitative", "axis": null}, "text": {"field": "t"}}}
     ]},
    {"width": 193, "height": 151, "data": {"name": "fits"}, "transform": [{"filter": "datum.p == 5"}],
     "encoding": {"x": {"field": "wn", "type": "quantitative", "scale": {"domain": [1480, 1710], "reverse": true, "nice": false, "zero": false}, "axis": {"values": [1500, 1550, 1600, 1650, 1700], "format": "d", "domain": false, "ticks": false, "labelFont": "Liberation Sans", "labelFontSize": 14, "labelFontWeight": "bold", "labelPadding": 3, "labelFlush": false, "labelOverlap": false, "title": "Wavenumber (cm⁻¹)", "titleFont": "Liberation Sans", "titleFontSize": 14, "titleFontWeight": "bold", "titlePadding": 3}}},
     "layer": [
      {"transform": [{"filter": "isValid(datum.a1)"}], "mark": {"type": "area", "interpolate": "monotone", "fillOpacity": 0.75, "color": {"gradient": "linear", "x1": 0, "y1": 0, "x2": 0, "y2": 1, "stops": [{"offset": 0, "color": "#B6847F"}, {"offset": 1, "color": "#F7C7BB"}]}}, "encoding": {"y": {"field": "a1", "type": "quantitative", "scale": {"domain": [0, 1], "nice": false}, "axis": null}}},
      {"transform": [{"filter": "isValid(datum.a2)"}], "mark": {"type": "area", "interpolate": "monotone", "fillOpacity": 0.75, "color": {"gradient": "linear", "x1": 0, "y1": 0, "x2": 0, "y2": 1, "stops": [{"offset": 0, "color": "#EBD05B"}, {"offset": 1, "color": "#FDF3C0"}]}}, "encoding": {"y": {"field": "a2", "type": "quantitative", "axis": null}}},
      {"transform": [{"filter": "isValid(datum.a1) && datum.a1 > 0.003"}], "mark": {"type": "line", "interpolate": "monotone", "stroke": "#E6A08F", "strokeWidth": 1}, "encoding": {"y": {"field": "a1", "type": "quantitative", "axis": null}}},
      {"transform": [{"filter": "isValid(datum.a2) && datum.a2 > 0.003"}], "mark": {"type": "line", "interpolate": "monotone", "stroke": "#EEC35A", "strokeWidth": 1}, "encoding": {"y": {"field": "a2", "type": "quantitative", "axis": null}}},
      {"transform": [{"filter": "isValid(datum.raw)"}], "mark": {"type": "line", "interpolate": "monotone", "stroke": "#1a1a1a", "strokeWidth": 1.2}, "encoding": {"y": {"field": "raw", "type": "quantitative", "axis": null}}},
      {"transform": [{"filter": "isValid(datum.fit)"}], "mark": {"type": "line", "interpolate": "monotone", "stroke": "#E8201C", "strokeWidth": 1.5}, "encoding": {"y": {"field": "fit", "type": "quantitative", "axis": null}}},
      {"transform": [{"filter": "datum.k == 'n'"}], "mark": {"type": "text", "font": "Liberation Sans", "fontSize": 20, "fontWeight": "bold", "color": "black"}, "encoding": {"y": {"field": "y", "type": "quantitative", "axis": null}, "text": {"field": "t"}}},
      {"transform": [{"filter": "datum.k == 'a'"}], "mark": {"type": "text", "font": "Liberation Sans", "fontSize": 14.5, "fontWeight": "bold", "color": "black"}, "encoding": {"y": {"field": "y", "type": "quantitative", "axis": null}, "text": {"field": "t"}}}
     ]},
    {"width": 193, "height": 151, "data": {"name": "fits"}, "transform": [{"filter": "datum.p == 6"}],
     "encoding": {"x": {"field": "wn", "type": "quantitative", "scale": {"domain": [1480, 1710], "reverse": true, "nice": false, "zero": false}, "axis": {"values": [1500, 1550, 1600, 1650, 1700], "format": "d", "domain": false, "ticks": false, "labelFont": "Liberation Sans", "labelFontSize": 14, "labelFontWeight": "bold", "labelPadding": 3, "labelFlush": false, "labelOverlap": false, "title": "Wavenumber (cm⁻¹)", "titleFont": "Liberation Sans", "titleFontSize": 14, "titleFontWeight": "bold", "titlePadding": 3}}},
     "layer": [
      {"transform": [{"filter": "isValid(datum.a1)"}], "mark": {"type": "area", "interpolate": "monotone", "fillOpacity": 0.75, "color": {"gradient": "linear", "x1": 0, "y1": 0, "x2": 0, "y2": 1, "stops": [{"offset": 0, "color": "#B6847F"}, {"offset": 1, "color": "#F7C7BB"}]}}, "encoding": {"y": {"field": "a1", "type": "quantitative", "scale": {"domain": [0, 1], "nice": false}, "axis": null}}},
      {"transform": [{"filter": "isValid(datum.a2)"}], "mark": {"type": "area", "interpolate": "monotone", "fillOpacity": 0.75, "color": {"gradient": "linear", "x1": 0, "y1": 0, "x2": 0, "y2": 1, "stops": [{"offset": 0, "color": "#EBD05B"}, {"offset": 1, "color": "#FDF3C0"}]}}, "encoding": {"y": {"field": "a2", "type": "quantitative", "axis": null}}},
      {"transform": [{"filter": "isValid(datum.a1) && datum.a1 > 0.003"}], "mark": {"type": "line", "interpolate": "monotone", "stroke": "#E6A08F", "strokeWidth": 1}, "encoding": {"y": {"field": "a1", "type": "quantitative", "axis": null}}},
      {"transform": [{"filter": "isValid(datum.a2) && datum.a2 > 0.003"}], "mark": {"type": "line", "interpolate": "monotone", "stroke": "#EEC35A", "strokeWidth": 1}, "encoding": {"y": {"field": "a2", "type": "quantitative", "axis": null}}},
      {"transform": [{"filter": "isValid(datum.raw)"}], "mark": {"type": "line", "interpolate": "monotone", "stroke": "#1a1a1a", "strokeWidth": 1.2}, "encoding": {"y": {"field": "raw", "type": "quantitative", "axis": null}}},
      {"transform": [{"filter": "isValid(datum.fit)"}], "mark": {"type": "line", "interpolate": "monotone", "stroke": "#E8201C", "strokeWidth": 1.5}, "encoding": {"y": {"field": "fit", "type": "quantitative", "axis": null}}},
      {"transform": [{"filter": "datum.k == 'n'"}], "mark": {"type": "text", "font": "Liberation Sans", "fontSize": 20, "fontWeight": "bold", "color": "black"}, "encoding": {"y": {"field": "y", "type": "quantitative", "axis": null}, "text": {"field": "t"}}},
      {"transform": [{"filter": "datum.k == 'a'"}], "mark": {"type": "text", "font": "Liberation Sans", "fontSize": 14.5, "fontWeight": "bold", "color": "black"}, "encoding": {"y": {"field": "y", "type": "quantitative", "axis": null}, "text": {"field": "t"}}}
     ]}
   ]
  }
 ]
}
